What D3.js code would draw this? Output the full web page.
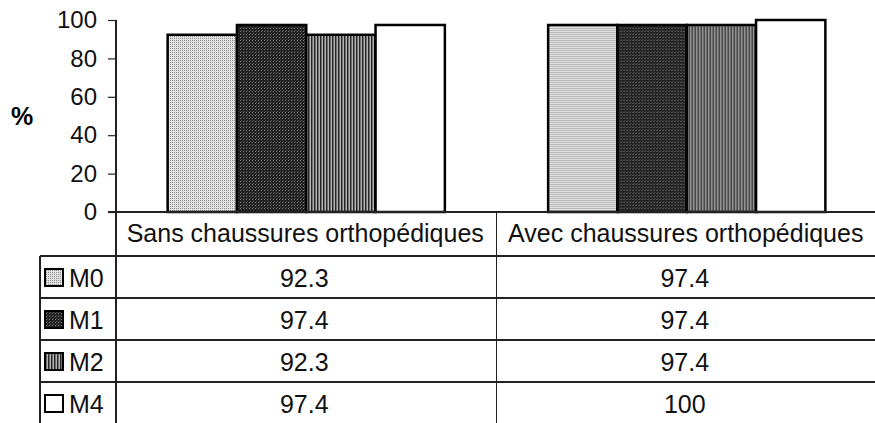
<!DOCTYPE html>
<html lang="fr">
<head>
<meta charset="UTF-8">
<title>Chaussures orthopédiques</title>
<script src="https://d3js.org/d3.v7.min.js"></script>
<style>
  body { margin: 0; background: #fff; }
  svg { display: block; font-family: "Liberation Sans", Arial, sans-serif; }
  .grid-line { stroke: #222; stroke-width: 1.2; shape-rendering: crispEdges; }
  .tick-label { font-size: 24px; fill: #111; }
  .cell-text { font-size: 25px; fill: #111; }
</style>
</head>
<body>
<div id="chart"></div>
<script>
// Data
const categories = ["Sans chaussures orthopédiques", "Avec chaussures orthopédiques"];
const seriesNames = ["M0", "M1", "M2", "M4"];
const valuesM0 = [92.3, 97.4];
const valuesM1 = [97.4, 97.4];
const valuesM2 = [92.3, 97.4];
const valuesM4 = [97.4, 100];
const yTicks = [0, 20, 40, 60, 80, 100];

const seriesValues = [valuesM0, valuesM1, valuesM2, valuesM4];

const width = 875, height = 423;
const axisX = 116, plotTop = 20, plotBottom = 212;
const legendLeft = 40;
const rowH = 42;
const headerBottom = 256;

const svg = d3.select("#chart").append("svg")
  .attr("width", width).attr("height", height);

// Fill patterns (grey textures of the print)
const defs = svg.append("defs");
function pattern(id, w, h, draw) {
  const p = defs.append("pattern").attr("id", id)
    .attr("patternUnits", "userSpaceOnUse").attr("width", w).attr("height", h);
  draw(p);
}
pattern("pM0", 2, 2, p => {
  p.append("rect").attr("width", 2).attr("height", 2).attr("fill", "#e2e2e2");
  p.append("rect").attr("width", 1).attr("height", 1).attr("fill", "#8e8e8e");
});
pattern("pM1", 3, 3, p => {
  p.append("rect").attr("width", 3).attr("height", 3).attr("fill", "#222");
  p.append("rect").attr("x", 1).attr("y", 1).attr("width", 1).attr("height", 1).attr("fill", "#7a7a7a");
  p.append("rect").attr("x", 2).attr("y", 0).attr("width", 1).attr("height", 1).attr("fill", "#4a4a4a");
});
pattern("pM2", 3, 3, p => {
  p.append("rect").attr("width", 3).attr("height", 3).attr("fill", "#6e6e6e");
  p.append("rect").attr("x", 0).attr("width", 1).attr("height", 3).attr("fill", "#262626");
  p.append("rect").attr("x", 2).attr("width", 1).attr("height", 3).attr("fill", "#b4b4b4");
});
const fills = { M0: "url(#pM0)", M1: "url(#pM1)", M2: "url(#pM2)", M4: "#ffffff" };

// Scales
const x0 = d3.scaleBand().domain(categories).range([axisX, axisX + 2 * 380.5]).padding(0);
const x1 = d3.scaleBand().domain(seriesNames).range([0, x0.bandwidth()])
  .paddingInner(0).paddingOuter(0.745);
const y = d3.scaleLinear().domain([0, 100]).range([plotBottom, plotTop]);

// Y axis
const yAxis = d3.axisLeft(y).tickValues(yTicks).tickSize(8).tickPadding(11);
const gy = svg.append("g").attr("transform", `translate(${axisX},0)`).call(yAxis);
gy.select(".domain").remove();
gy.selectAll(".tick line").attr("stroke", "#222").attr("stroke-width", 1.2);
gy.selectAll(".tick text").attr("class", "tick-label").attr("font-family", null).attr("font-size", null);

svg.append("text")
  .attr("x", 22).attr("y", 116).attr("dy", "0.35em")
  .attr("text-anchor", "middle")
  .attr("font-size", 25).attr("font-weight", "bold")
  .text("%");

// Bars
const groups = svg.append("g").selectAll("g")
  .data(categories).enter().append("g")
  .attr("transform", d => `translate(${x0(d)},0)`);

groups.selectAll("rect")
  .data((c, ci) => seriesNames.map((s, si) => ({ s, v: seriesValues[si][ci] })))
  .enter().append("rect")
  .attr("x", d => x1(d.s))
  .attr("y", d => y(d.v))
  .attr("width", x1.bandwidth())
  .attr("height", d => y(0) - y(d.v))
  .attr("fill", d => fills[d.s])
  .attr("stroke", "#000")
  .attr("stroke-width", 2.5);

// Data table
const lines = svg.append("g");
// x axis / header top
lines.append("line").attr("class", "grid-line")
  .attr("x1", axisX - 8).attr("x2", width).attr("y1", plotBottom).attr("y2", plotBottom);
// y axis line continuing through table
lines.append("line").attr("class", "grid-line")
  .attr("x1", axisX).attr("x2", axisX).attr("y1", plotTop).attr("y2", height);
// category separator
categories.slice(1).forEach(c => {
  lines.append("line").attr("class", "grid-line")
    .attr("x1", x0(c)).attr("x2", x0(c)).attr("y1", plotBottom).attr("y2", height);
});
// legend column left border
lines.append("line").attr("class", "grid-line")
  .attr("x1", legendLeft).attr("x2", legendLeft).attr("y1", headerBottom).attr("y2", height);
// row lines
seriesNames.forEach((s, i) => {
  lines.append("line").attr("class", "grid-line")
    .attr("x1", legendLeft).attr("x2", width)
    .attr("y1", headerBottom + i * rowH).attr("y2", headerBottom + i * rowH);
});

// header labels
svg.append("g").selectAll("text")
  .data(categories).enter().append("text")
  .attr("class", "cell-text")
  .attr("x", d => x0(d) + x0.bandwidth() / 2 - 1)
  .attr("y", (plotBottom + headerBottom) / 2 - 1)
  .attr("dy", "0.35em")
  .attr("text-anchor", "middle")
  .text(d => d);

// rows
seriesNames.forEach((s, si) => {
  const cy = headerBottom + si * rowH + rowH / 2;
  svg.append("rect")
    .attr("x", 45).attr("y", cy - 8).attr("width", 18).attr("height", 17)
    .attr("fill", fills[s]).attr("stroke", "#000").attr("stroke-width", 2);
  svg.append("text").attr("class", "cell-text")
    .attr("x", 69).attr("y", cy + 1).attr("dy", "0.35em")
    .text(s);
  categories.forEach((c, ci) => {
    svg.append("text").attr("class", "cell-text")
      .attr("x", x0(c) + x0.bandwidth() / 2 - 2)
      .attr("y", cy + 1).attr("dy", "0.35em")
      .attr("text-anchor", "middle")
      .text(seriesValues[si][ci]);
  });
});
</script>
</body>
</html>
